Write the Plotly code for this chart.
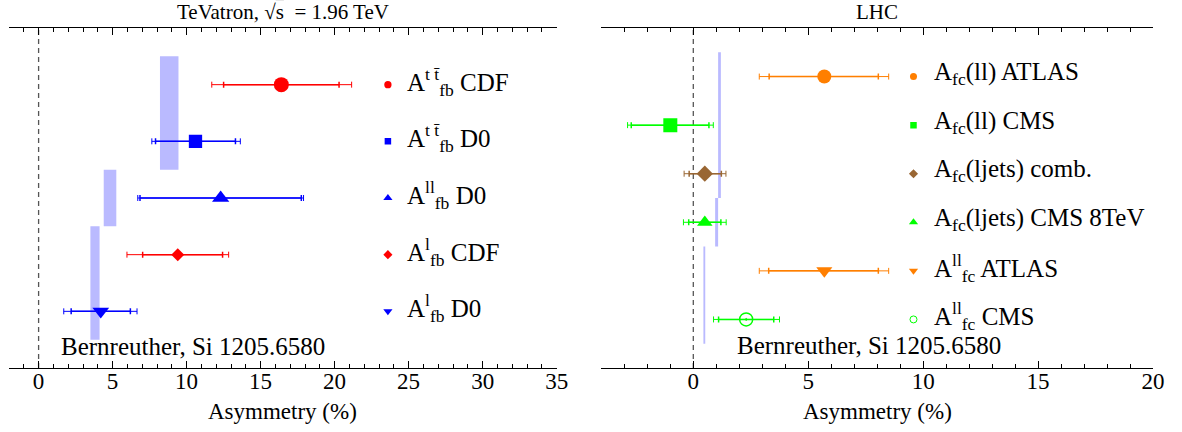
import plotly.graph_objects as go

# ---------------- TeVatron panel data ----------------
tev_labels = [
    "A<sup>t t\u0304</sup><sub>fb</sub> CDF",
    "A<sup>t t\u0304</sup><sub>fb</sub> D0",
    "A<sup>ll</sup><sub>fb</sub> D0",
    "A<sup>l</sup><sub>fb</sub> CDF",
    "A<sup>l</sup><sub>fb</sub> D0",
]
tev_row = [5, 4, 3, 2, 1]
tev_value = [16.4, 10.6, 12.3, 9.4, 4.2]
tev_stat_minus = [3.9, 2.7, 5.45, 2.37, 2.0]
tev_stat_plus = [3.9, 2.7, 5.45, 3.03, 2.0]
tev_tot_minus = [4.7, 2.95, 5.6, 3.43, 2.5]
tev_tot_plus = [4.75, 3.03, 5.6, 3.44, 2.45]
tev_symbol = ["circle", "square", "triangle-up", "diamond", "triangle-down"]
tev_color = ["#FF0000", "#0000FF", "#0000FF", "#FF0000", "#0000FF"]
tev_size = [15, 13.3, 15, 10, 14.5]
tev_leg_size = [7.3, 6.5, 8, 7, 8]

tev_theory_lo = [8.2, 4.4, 3.5]
tev_theory_hi = [9.45, 5.25, 4.12]
tev_theory_ylo = [3.5, 2.5, 0.5]
tev_theory_yhi = [5.5, 3.5, 2.5]

# ---------------- LHC panel data ----------------
lhc_labels = [
    "A<sub>fc</sub>(ll) ATLAS",
    "A<sub>fc</sub>(ll) CMS",
    "A<sub>fc</sub>(ljets) comb.",
    "A<sub>fc</sub>(ljets) CMS 8TeV",
    "A<sup>ll</sup><sub>fc</sub> ATLAS",
    "A<sup>ll</sup><sub>fc</sub> CMS",
]
lhc_row = [6, 5, 4, 3, 2, 1]
lhc_value = [5.7, -1.0, 0.5, 0.5, 5.7, 2.3]
lhc_stat_minus = [2.4, 1.7, 0.68, 0.7, 2.42, 1.2]
lhc_stat_plus = [2.35, 1.68, 0.72, 0.7, 2.35, 1.2]
lhc_tot_minus = [2.83, 1.86, 0.9, 0.93, 2.83, 1.42]
lhc_tot_plus = [2.8, 1.87, 0.92, 0.93, 2.8, 1.45]
lhc_symbol = ["circle", "square", "diamond", "triangle-up", "triangle-down", "circle-open-dot"]
lhc_color = ["#FF7F00", "#00FF00", "#996633", "#00FF00", "#FF7F00", "#00FF00"]
lhc_size = [14, 14, 12.5, 13.5, 14, 13]
lhc_leg_size = [7, 6.5, 7, 8, 8, 7]

lhc_theory_lo = [1.08, 0.95, 0.44]
lhc_theory_hi = [1.2, 1.08, 0.52]
lhc_theory_ylo = [3.5, 2.5, 0.5]
lhc_theory_yhi = [6.5, 3.5, 2.5]

tev_ticks = [0, 5, 10, 15, 20, 25, 30, 35]
lhc_ticks = [0, 5, 10, 15, 20]

FONT = "'Liberation Serif', 'Times New Roman', Times, serif"
BAND = "#BABAFF"

fig = go.Figure()
shapes = []
annotations = []

panels = [
    dict(xa="x", ya="y", labels=tev_labels, row=tev_row, value=tev_value,
         sm=tev_stat_minus, sp=tev_stat_plus, tm=tev_tot_minus, tp=tev_tot_plus,
         symbol=tev_symbol, color=tev_color, size=tev_size, lsize=tev_leg_size,
         tlo=tev_theory_lo, thi=tev_theory_hi, tylo=tev_theory_ylo, tyhi=tev_theory_yhi,
         leg_marker_x=23.6, leg_text_x=24.75, credit_x=1.4, credit_y=0.38),
    dict(xa="x2", ya="y2", labels=lhc_labels, row=lhc_row, value=lhc_value,
         sm=lhc_stat_minus, sp=lhc_stat_plus, tm=lhc_tot_minus, tp=lhc_tot_plus,
         symbol=lhc_symbol, color=lhc_color, size=lhc_size, lsize=lhc_leg_size,
         tlo=lhc_theory_lo, thi=lhc_theory_hi, tylo=lhc_theory_ylo, tyhi=lhc_theory_yhi,
         leg_marker_x=9.58, leg_text_x=10.4, credit_x=1.8, credit_y=0.46),
]

for p in panels:
    # theory bands
    for lo, hi, ylo, yhi in zip(p["tlo"], p["thi"], p["tylo"], p["tyhi"]):
        shapes.append(dict(type="rect", xref=p["xa"], yref=p["ya"], x0=lo, x1=hi,
                           y0=ylo, y1=yhi, fillcolor=BAND, line=dict(width=0),
                           layer="below"))
    # zero line
    shapes.append(dict(type="line", xref=p["xa"], yref=p["ya"] + " domain", x0=0, x1=0,
                       y0=0, y1=1, line=dict(color="#555555", width=1.3, dash="5px,4px"),
                       layer="below"))
    for i in range(len(p["value"])):
        c = p["color"][i]
        # total error bars
        fig.add_trace(go.Scatter(
            x=[p["value"][i]], y=[p["row"][i]], xaxis=p["xa"], yaxis=p["ya"],
            mode="markers", marker=dict(size=1, color="rgba(0,0,0,0)"),
            error_x=dict(type="data", symmetric=False, array=[p["tp"][i]],
                         arrayminus=[p["tm"][i]], color=c, thickness=1, width=3),
            showlegend=False, hoverinfo="skip"))
        # stat error bars + marker
        fig.add_trace(go.Scatter(
            x=[p["value"][i]], y=[p["row"][i]], xaxis=p["xa"], yaxis=p["ya"],
            mode="markers",
            marker=dict(symbol=p["symbol"][i], size=p["size"][i], color=c,
                        line=dict(width=1.5 if "open" in p["symbol"][i] else 0, color=c)),
            error_x=dict(type="data", symmetric=False, array=[p["sp"][i]],
                         arrayminus=[p["sm"][i]], color=c, thickness=1.5, width=3),
            showlegend=False))
        # legend marker
        fig.add_trace(go.Scatter(
            x=[p["leg_marker_x"]], y=[p["row"][i]], xaxis=p["xa"], yaxis=p["ya"],
            mode="markers",
            marker=dict(symbol=p["symbol"][i].replace("-dot", ""), size=p["lsize"][i], color=c,
                        line=dict(width=1 if "open" in p["symbol"][i] else 0, color=c)),
            showlegend=False, hoverinfo="skip"))
        annotations.append(dict(
            x=p["leg_text_x"], y=p["row"][i], xref=p["xa"], yref=p["ya"], yshift=3,
            text=p["labels"][i], showarrow=False, xanchor="left", yanchor="middle",
            font=dict(family=FONT, size=25, color="black")))
    annotations.append(dict(
        x=p["credit_x"], y=p["credit_y"], xref=p["xa"], yref=p["ya"],
        text="Bernreuther, Si 1205.6580", showarrow=False, xanchor="left",
        yanchor="middle", font=dict(family=FONT, size=25, color="black")))
    annotations.append(dict(
        x=0.5, y=0, xref=p["xa"] + " domain", yref="paper", yshift=-43,
        text="Asymmetry (%)", showarrow=False, xanchor="center", yanchor="middle",
        font=dict(family=FONT, size=23, color="black")))

annotations.append(dict(
    x=0.5, y=1, xref="x domain", yref="paper", yshift=16,
    text="TeVatron, \u221a<span style='text-decoration:overline'>s</span>  = 1.96 TeV",
    showarrow=False, xanchor="center", yanchor="middle",
    font=dict(family=FONT, size=21, color="black")))
annotations.append(dict(
    x=0.5, y=1, xref="x2 domain", yref="paper", yshift=16,
    text="LHC", showarrow=False, xanchor="center", yanchor="middle",
    font=dict(family=FONT, size=21, color="black")))

xaxis_common = dict(
    showline=True, linecolor="black", linewidth=1.2, mirror="ticks",
    ticks="inside", ticklen=7, tickwidth=1, tickcolor="black",
    minor=dict(dtick=1, ticks="inside", ticklen=4, tickwidth=1, tickcolor="black"),
    showgrid=False, zeroline=False, ticklabelstandoff=-8,
    tickfont=dict(family=FONT, size=23, color="black"),
)
yaxis_common = dict(showline=False, showticklabels=False, ticks="", showgrid=False,
                    zeroline=False, fixedrange=True)

fig.update_layout(
    width=1182, height=432, autosize=False,
    margin=dict(l=9, r=29, t=28, b=64),
    plot_bgcolor="white", paper_bgcolor="white",
    xaxis=dict(domain=[0, 0.4787], range=[-2, 35], tickvals=tev_ticks, **xaxis_common),
    xaxis2=dict(domain=[0.5178, 1], range=[-4, 20], tickvals=lhc_ticks, **xaxis_common),
    yaxis=dict(anchor="x", range=[0, 6], **yaxis_common),
    yaxis2=dict(anchor="x2", range=[0, 7], **yaxis_common),
    shapes=shapes, annotations=annotations, showlegend=False,
)

fig.write_html("out.html")
